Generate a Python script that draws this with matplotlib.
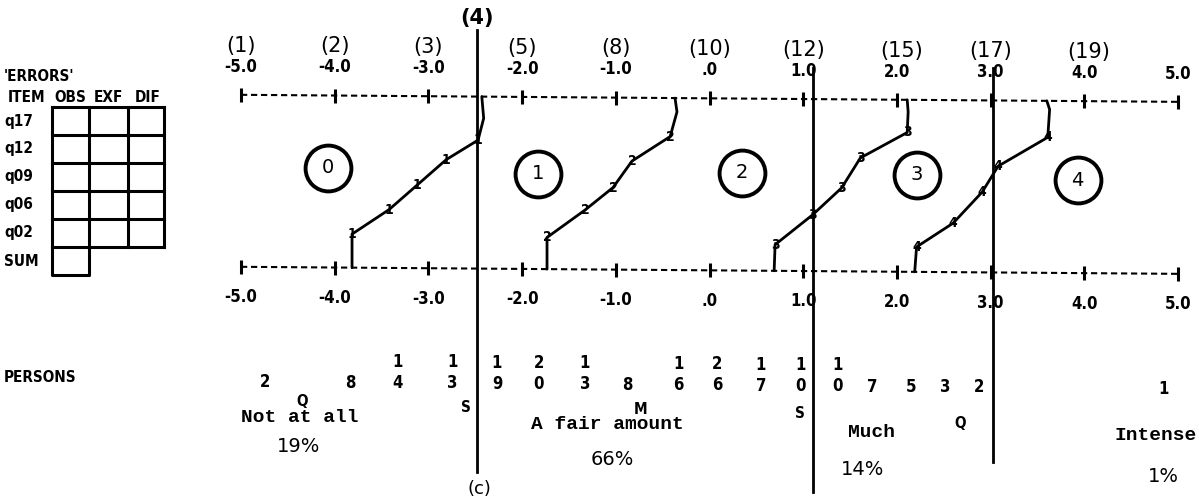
import matplotlib
matplotlib.use("Agg")
import matplotlib.pyplot as plt
import matplotlib.transforms as mtransforms

# logit ruler, printed above the top line and below the bottom line
ticks = [-5, -4, -3, -2, -1, 0, 1, 2, 3, 4, 5]
tick_labels = ["-5.0", "-4.0", "-3.0", "-2.0", "-1.0", ".0",
               "1.0", "2.0", "3.0", "4.0", "5.0"]

# raw scores written over the ruler
raw_labels = ["(1)", "(2)", "(3)", "(5)", "(8)", "(10)", "(12)", "(15)", "(17)", "(19)"]
raw_at = [-5, -4, -3, -2, -1, 0, 1.0, 2.05, 3.0, 4.05]

# cut points between response groups
cuts = [-2.48, 1.104, 3.026]
cut_raw = "(4)"

# threshold curves: foot on lower line, 5 printed points, hook up to top line
curve_marks = ["1", "2", "3", "4"]
curve_x = [
    [-3.815, -3.815, -3.42, -3.12, -2.81, -2.47, -2.41, -2.43],
    [-1.734, -1.734, -1.329, -1.03, -0.827, -0.42, -0.347, -0.368],
    [0.69, 0.70, 1.10, 1.41, 1.61, 2.11, 2.12, 2.11],
    [2.19, 2.21, 2.60, 2.91, 3.08, 3.61, 3.63, 3.60],
]
curve_y = [
    [0, 0.195, 0.339, 0.483, 0.632, 0.747, 0.874, 1.0],
    [0, 0.184, 0.345, 0.477, 0.632, 0.776, 0.92, 1.0],
    [0, 0.152, 0.327, 0.485, 0.66, 0.81, 0.93, 1.0],
    [0, 0.145, 0.285, 0.467, 0.618, 0.788, 0.95, 1.0],
]

# circled category numbers
cat_nums = ["0", "1", "2", "3", "4"]
cat_x = [-4.07, -1.83, 0.35, 2.21, 3.93]
cat_y = [0.58, 0.555, 0.57, 0.565, 0.54]

# person distribution, counts printed tens over units
person_x = [-4.744, -3.837, -3.335, -2.748, -2.268, -1.82, -1.329, -0.88, -0.336,
            0.08, 0.549, 0.966, 1.371, 1.734, 2.15, 2.513, 2.876, 4.84]
person_n = [2, 8, 14, 13, 19, 20, 13, 8, 16, 26, 17, 10, 10, 7, 5, 3, 2, 1]

# Q S M S Q markers under the distribution
msq_labels = ["Q", "S", "M", "S", "Q"]
msq_x = [-4.35, -2.60, -0.74, 0.97, 2.68]

# response groups
groups = ["Not at all", "A fair amount", "Much", "Intense"]
group_pct = ["19%", "66%", "14%", "1%"]
group_x = [-4.37, -1.094, 1.734, 4.76]
pct_x = [-4.39, -1.04, 1.63, 4.84]

# empty error table on the left
items = ["q17", "q12", "q09", "q06", "q02"]
item_cols = ["OBS", "EXF", "DIF"]

num_font = dict(family="DejaVu Sans", fontweight="bold", fontstretch="condensed")

fig = plt.figure(figsize=(11.99, 5.01), dpi=100)
ax = fig.add_axes([0, 0, 1, 1])
ax.set_xlim(-709.5 / 93.7, (1199 - 709.5) / 93.7)
ax.set_ylim((265 - 501) / 172, 265 / 172)
ax.axis("off")
# scanned page is a bit turned, everything runs downhill to the right
tr = ax.transData + mtransforms.Affine2D().skew_deg(0, -0.43)

# rulers
for yy in (0, 1):
    ax.plot([ticks[0], ticks[-1]], [yy, yy], color="black", lw=1.5,
            ls=(0, (3.0, 1.8)), transform=tr)
    ax.plot(ticks, [yy] * len(ticks), ls="none", marker="|", ms=10, mew=2.2,
            color="black", transform=tr)

for t, lab in zip(ticks, tick_labels):
    ax.text(t, 1.164, lab, ha="center", va="center", fontsize=12, transform=tr, **num_font)
    ax.text(t, -0.177, lab, ha="center", va="center", fontsize=12, transform=tr, **num_font)

for r, lab in zip(raw_at, raw_labels):
    ax.text(r, 1.286, lab, ha="center", va="center", fontsize=15, transform=tr)
ax.text(cuts[0], 1.457, cut_raw, ha="center", va="center", fontsize=15,
        fontweight="bold", transform=tr)

# cut lines
cut_top = [1.387, 1.181, 1.188]
cut_bot = [-1.183, -1.284, -1.102]
for c, t0, b0 in zip(cuts, cut_top, cut_bot):
    ax.plot([c, c], [b0, t0], color="black", lw=2, transform=tr)
ax.text(cuts[0] + 0.03, -1.28, "(c)", ha="center", va="center", fontsize=13, transform=tr)

# threshold curves
for xs, ys, m in zip(curve_x, curve_y, curve_marks):
    ax.plot(xs, ys, color="black", lw=2, solid_capstyle="round",
            solid_joinstyle="round", transform=tr)
    for x, y in zip(xs[1:6], ys[1:6]):
        ax.text(x, y, m, ha="center", va="center", fontsize=10, transform=tr, **num_font)

# circled categories
ax.plot(cat_x, cat_y, ls="none", marker="o", ms=33, mfc="none", mec="black",
        mew=2.8, transform=tr)
for x, y, n in zip(cat_x, cat_y, cat_nums):
    ax.text(x, y, n, ha="center", va="center", fontsize=14, transform=tr)

# persons
for x, n in zip(person_x, person_n):
    if n >= 10:
        ax.text(x, -0.547, str(n // 10), ha="center", va="center", fontsize=12,
                transform=tr, **num_font)
    ax.text(x, -0.669, str(n % 10), ha="center", va="center", fontsize=12,
            transform=tr, **num_font)

msq_y = [-0.783, -0.811, -0.815, -0.831, -0.882]
for x, y, lab in zip(msq_x, msq_y, msq_labels):
    ax.text(x, y, lab, ha="center", va="center", fontsize=11, transform=tr, **num_font)

group_y = [-0.876, -0.903, -0.933, -0.943]
pct_y = [-1.045, -1.107, -1.154, -1.176]
for x, y, lab in zip(group_x, group_y, groups):
    ax.text(x, y, lab, ha="center", va="center", fontsize=14, family="Liberation Mono",
            fontweight="bold", transform=tr)
for x, y, lab in zip(pct_x, pct_y, group_pct):
    ax.text(x, y, lab, ha="center", va="center", fontsize=14, transform=tr)

# left panel, drawn in page pixels
ov = fig.add_axes([0, 0, 1, 1], facecolor="none")
ov.set_xlim(0, 1199)
ov.set_ylim(501, 0)
ov.axis("off")

ov.text(4, 76, "'ERRORS'", ha="left", va="center", fontsize=11, **num_font)
for hx, lab in zip([27, 70, 108, 148], ["ITEM"] + item_cols):
    ov.text(hx, 97, lab, ha="center", va="center", fontsize=11, **num_font)

col_edges = [52, 89, 128, 164]
row_top, row_h = 107, 28
for i, it in enumerate(items + ["SUM"]):
    ov.text(4, row_top + row_h * (i + 0.5), it, ha="left", va="center", fontsize=11, **num_font)
for i in range(len(items) + 1):
    ov.plot([col_edges[0], col_edges[-1]], [row_top + row_h * i] * 2, color="black", lw=2.2)
for cx in col_edges:
    ov.plot([cx, cx], [row_top, row_top + row_h * len(items)], color="black", lw=2.2)
sum_top = row_top + row_h * len(items)
ov.plot([col_edges[0], col_edges[0], col_edges[1], col_edges[1]],
        [sum_top, sum_top + row_h, sum_top + row_h, sum_top], color="black", lw=2.2)

ov.text(4, 378, "PERSONS", ha="left", va="center", fontsize=11, **num_font)

fig.savefig("out.png", dpi=100)
